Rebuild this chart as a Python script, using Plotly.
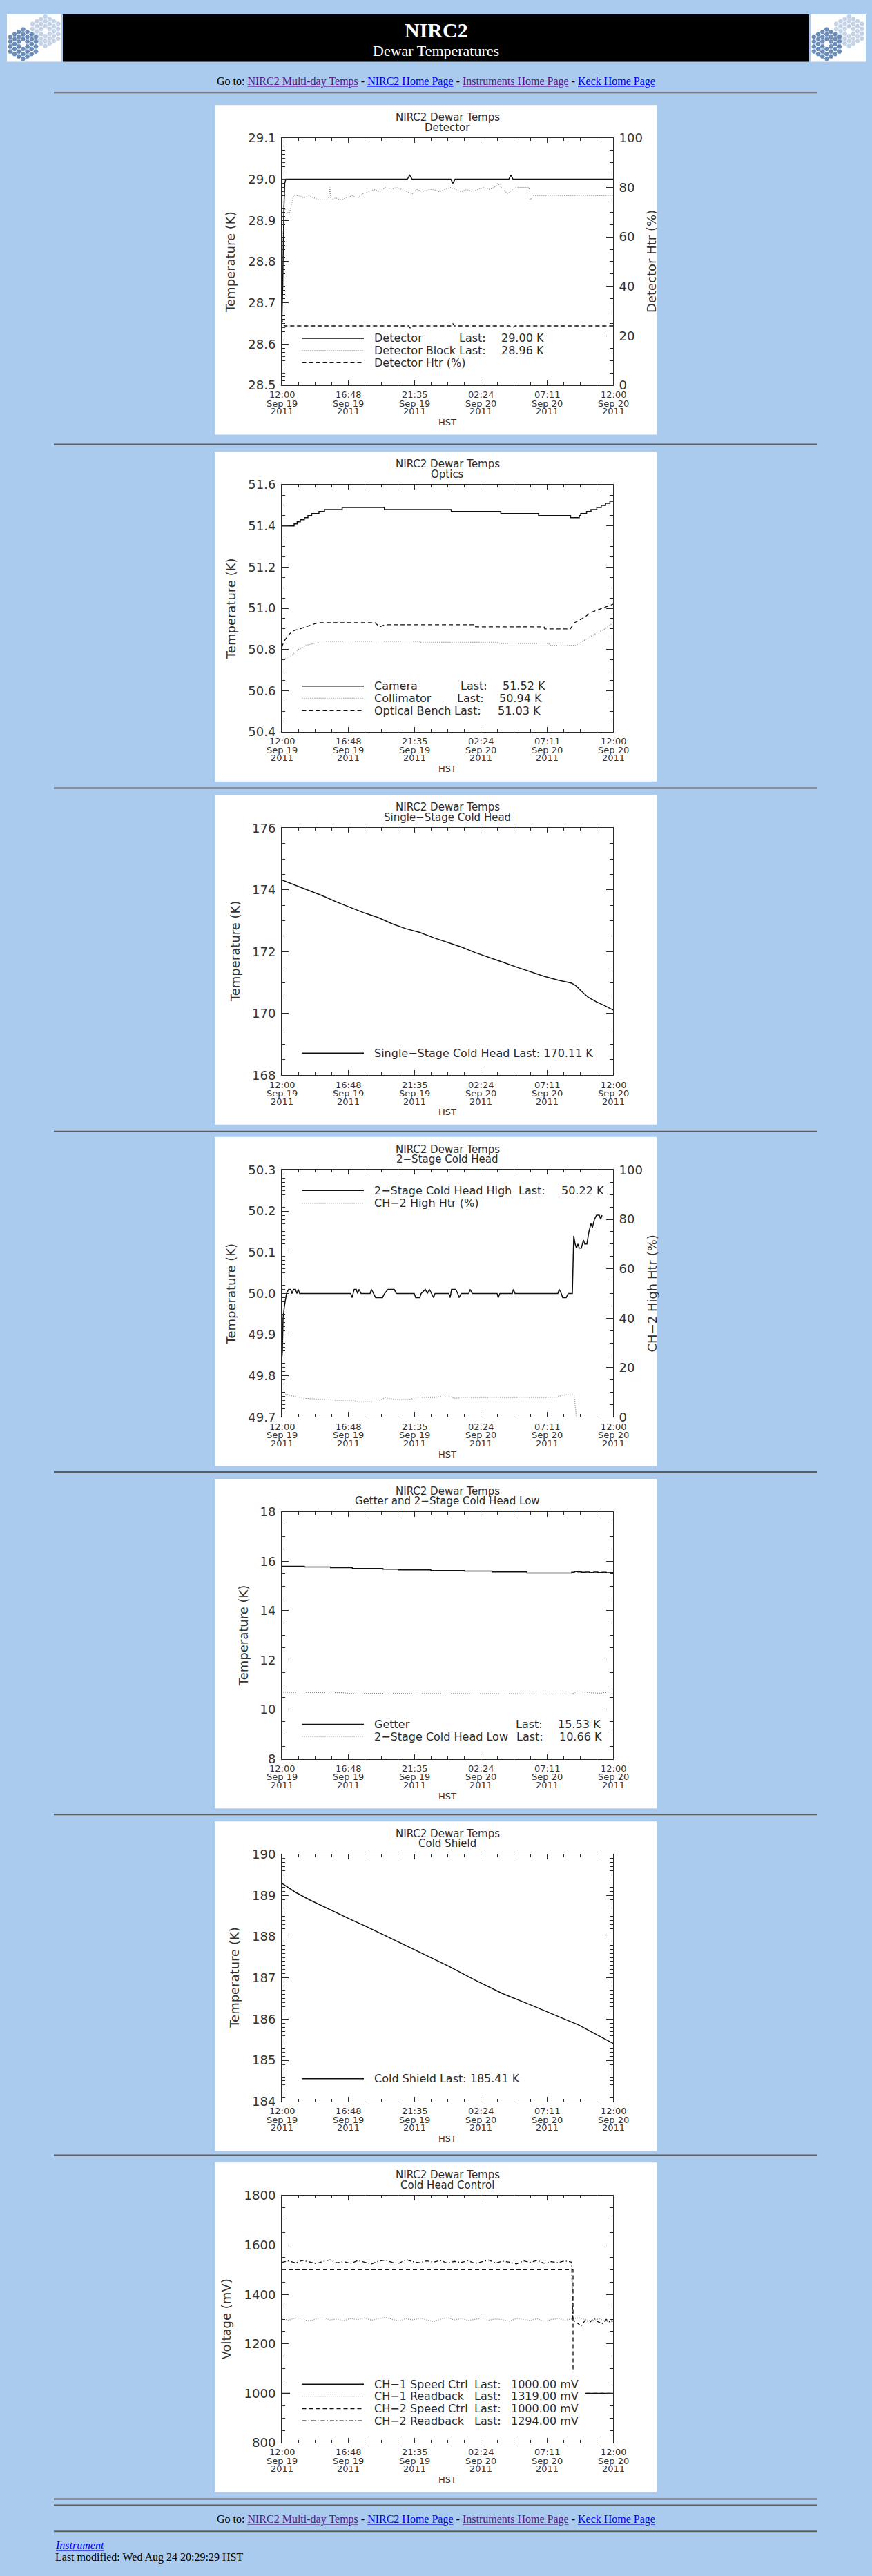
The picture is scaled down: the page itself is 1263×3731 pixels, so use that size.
import pandas as pd
import plotly.graph_objects as go

W, H = 1263, 3731
PAGE_BG = "#aacbee"
AX = "#2a2a2a"
TXT = "#2a2a2a"
IDL_FONT = "DejaVu Sans"
HTML_FONT = "Liberation Serif"
T0 = pd.Timestamp("2011-09-19 12:00")

# ---------------- data (hours after 2011-09-19 12:00 HST) ----------------
TICK_HOURS = [0, 4.8, 9.6, 14.4, 19.2, 24]
MINOR_HOURS = [1.2, 2.4, 3.6, 6.0, 7.2, 8.4, 10.8, 12.0, 13.2, 15.6, 16.8, 18.0, 20.4, 21.6, 22.8]
TICK_TIME = ["12:00", "16:48", "21:35", "02:24", "07:11", "12:00"]
TICK_DATE = ["Sep 19", "Sep 19", "Sep 19", "Sep 20", "Sep 20", "Sep 20"]
TICK_YEAR = ["2011", "2011", "2011", "2011", "2011", "2011"]

# Panel 1 - Detector
det_t = [0, 0.08, 0.16, 0.22, 0.3, 9.1, 9.27, 9.45, 12.25, 12.4, 12.55, 16.45, 16.6, 16.75, 24]
det_v = [28.64, 28.75, 28.93, 28.99, 29.0, 29.0, 29.01, 29.0, 29.0, 28.99, 29.0, 29.0, 29.01, 29.0, 29.0]
blk_t = [0.1, 0.3, 0.55, 0.7, 0.85, 1.2, 1.6, 2.0, 2.3, 2.7, 3.1, 3.4, 3.48, 3.58, 3.9, 4.3, 4.7, 5.1,
         5.5, 5.9, 6.3, 6.7, 7.1, 7.5, 7.9, 8.3, 8.7, 9.1, 9.45, 9.8, 10.2, 10.6, 11.0, 11.4, 11.8,
         12.2, 12.6, 13.0, 13.4, 13.8, 14.2, 14.6, 15.0, 15.4, 15.65, 15.9, 16.2, 16.4, 16.7, 17.0,
         17.4, 17.9, 18.0, 18.2, 24]
blk_v = [28.93, 28.925, 28.915, 28.94, 28.96, 28.96, 28.955, 28.96, 28.955, 28.95, 28.95, 28.95,
         28.98, 28.95, 28.955, 28.95, 28.955, 28.96, 28.955, 28.965, 28.97, 28.975, 28.97, 28.98,
         28.975, 28.98, 28.975, 28.97, 28.965, 28.975, 28.97, 28.975, 28.975, 28.97, 28.975, 28.98,
         28.975, 28.97, 28.975, 28.97, 28.975, 28.98, 28.975, 28.98, 28.99, 28.98, 28.97, 28.965,
         28.975, 28.98, 28.98, 28.98, 28.95, 28.96, 28.96]
htr_t = [0, 0.1, 0.25, 5.0, 9.2, 9.3, 9.4, 12.3, 12.4, 12.5, 16.5, 16.7, 16.9, 24]
htr_v = [27.0, 24.5, 24.0, 24.0, 24.0, 23.2, 24.0, 24.0, 24.9, 24.0, 24.0, 23.3, 24.0, 24.0]

# Panel 2 - Optics
cam_t = [0, 0.9, 1.12, 1.35, 1.64, 1.9, 2.17, 2.7, 3.1, 4.38, 7.44, 12.28, 15.87, 18.6, 20.92,
         21.55, 21.66, 22.08, 22.4, 22.82, 23.14, 23.45, 23.77, 24]
cam_v = [51.40, 51.41, 51.42, 51.43, 51.44, 51.45, 51.46, 51.47, 51.48, 51.49, 51.48, 51.47, 51.46,
         51.45, 51.44, 51.45, 51.46, 51.47, 51.48, 51.49, 51.50, 51.51, 51.52, 51.52]
col_t = [0.1, 0.7, 1.2, 1.75, 2.4, 2.9, 10.0, 10.1, 15.7, 15.8, 19.3, 19.5, 21.3, 21.8, 22.3, 22.8,
         23.4, 23.8, 24]
col_v = [50.75, 50.77, 50.80, 50.82, 50.83, 50.84, 50.84, 50.835, 50.835, 50.83, 50.83, 50.82,
         50.82, 50.84, 50.86, 50.88, 50.90, 50.92, 50.93]
ob_t = [0, 0.17, 0.48, 0.8, 1.3, 1.75, 2.6, 6.75, 7.1, 7.45, 14.0, 14.05, 19.0, 19.05, 20.9, 21.2,
        21.5, 22.0, 22.4, 22.8, 23.2, 23.6, 24]
ob_v = [50.81, 50.84, 50.87, 50.89, 50.90, 50.91, 50.93, 50.93, 50.91, 50.92, 50.92, 50.91, 50.91,
        50.90, 50.90, 50.93, 50.94, 50.96, 50.98, 50.99, 51.00, 51.01, 51.02]

# Panel 3 - Single-Stage Cold Head
ss_t = [0, 1, 2, 3, 4, 5, 6, 7, 8, 9, 10, 11, 12, 13, 14, 15, 16, 17, 18, 19, 20, 21, 21.3, 21.7,
        22.2, 22.8, 23.4, 24]
ss_v = [174.32, 174.15, 173.97, 173.80, 173.60, 173.42, 173.25, 173.10, 172.90, 172.74, 172.62,
        172.45, 172.30, 172.15, 171.97, 171.82, 171.66, 171.50, 171.35, 171.20, 171.08, 170.98,
        170.90, 170.72, 170.52, 170.37, 170.25, 170.11]

# Panel 4 - 2-Stage Cold Head
ch2_t = [0.0, 0.05, 0.1, 0.2, 0.35, 0.5, 0.65, 0.75, 0.85, 1.0, 1.1, 1.2, 1.3, 1.45, 5.0, 5.1, 5.25,
         5.4, 5.5, 5.6, 5.75, 6.4, 6.5, 6.65, 6.8, 7.3, 7.45, 7.7, 8.15, 8.3, 9.6, 9.7, 10.0, 10.1,
         10.4, 10.55, 10.7, 10.85, 11.0, 11.1, 12.1, 12.2, 12.3, 12.6, 12.75, 12.85, 13.0, 13.55,
         13.65, 13.8, 15.6, 15.68, 15.8, 16.7, 16.78, 16.9, 20.0, 20.1, 20.25, 20.35, 20.6, 20.75,
         21.05, 21.1, 21.15, 21.25, 21.35, 21.45, 21.55, 21.7, 21.85, 21.95, 22.1, 22.25, 22.4,
         22.5, 22.65, 22.8, 22.9, 23.0, 23.1, 23.2]
ch2_v = [49.84, 49.86, 49.94, 49.97, 50.00, 50.01, 50.01, 50.00, 50.01, 50.01, 50.00, 50.01, 50.00,
         50.00, 50.00, 49.99, 50.01, 50.01, 50.00, 50.01, 50.00, 50.00, 50.01, 50.00, 49.99, 49.99,
         50.00, 50.01, 50.01, 50.00, 50.00, 49.99, 49.99, 50.00, 50.01, 50.00, 50.01, 50.00, 49.99,
         50.00, 50.00, 49.99, 50.01, 50.01, 50.00, 49.99, 50.00, 50.00, 50.01, 50.00, 50.00, 49.99,
         50.00, 50.00, 50.01, 50.00, 50.00, 50.01, 50.00, 49.99, 49.99, 50.00, 50.00, 50.07, 50.14,
         50.12, 50.11, 50.12, 50.11, 50.11, 50.13, 50.12, 50.12, 50.15, 50.17, 50.16, 50.18, 50.19,
         50.19, 50.19, 50.18, 50.19]
ch2htr_t = [0.27, 0.8, 1.54, 3.0, 4.07, 5.2, 5.54, 7.0, 7.44, 8.28, 9.2, 9.97, 11.0, 12.07, 12.5,
            13.5, 15.0, 16.5, 18.0, 19.87, 20.3, 20.7, 21.18, 21.34]
ch2htr_v = [9.3, 8.5, 7.6, 7.1, 6.8, 6.8, 6.2, 6.2, 7.8, 7.1, 7.1, 8.0, 7.9, 8.5, 7.6, 7.9, 7.9, 8.1,
            7.9, 7.9, 8.8, 9.0, 9.0, 0.0]

# Panel 5 - Getter and 2-Stage Cold Head Low
get_t = [0, 1.64, 3.54, 5.12, 7.33, 8.43, 10.8, 13.23, 15.23, 17.76, 21.0, 21.2, 21.45, 21.7, 22.0,
         22.3, 22.6, 22.9, 23.2, 23.5, 23.8, 24]
get_v = [15.80, 15.77, 15.74, 15.71, 15.68, 15.65, 15.62, 15.60, 15.57, 15.52, 15.55, 15.58, 15.57,
         15.55, 15.56, 15.54, 15.56, 15.54, 15.55, 15.53, 15.54, 15.53]
low_t = [0.1, 2.0, 3.5, 4.5, 5.0, 6.0, 7.0, 8.0, 9.0, 10.0, 11.0, 12.0, 13.0, 14.0, 15.0, 16.0,
         17.0, 18.0, 19.0, 20.0, 21.0, 21.1, 21.4, 22.0, 22.5, 23.0, 23.5, 24]
low_v = [10.70, 10.70, 10.69, 10.68, 10.65, 10.66, 10.65, 10.66, 10.65, 10.65, 10.66, 10.65, 10.64,
         10.65, 10.64, 10.64, 10.64, 10.63, 10.63, 10.63, 10.63, 10.66, 10.73, 10.70, 10.68, 10.66,
         10.69, 10.66]

# Panel 6 - Cold Shield
cs_t = [0, 1, 2, 3, 4, 5, 6, 8, 10, 12, 14, 16, 18, 20, 21.5, 22.5, 24]
cs_v = [189.30, 189.08, 188.90, 188.74, 188.57, 188.42, 188.27, 187.95, 187.63, 187.30, 186.95,
        186.62, 186.35, 186.07, 185.86, 185.68, 185.41]

# Panel 7 - Cold Head Control (mV)
ch1spd_t = [0, 24]
ch1spd_v = [1000, 1000]
ch2spd_t = [0, 21.1, 21.1, 24]
ch2spd_v = [1500, 1500, 1000, 1000]
rb_t = [0, 0.5, 1, 1.5, 2, 2.5, 3, 3.5, 4, 4.5, 5, 5.5, 6, 6.5, 7, 7.5, 8, 8.5, 9, 9.5, 10, 10.5,
        11, 11.5, 12, 12.5, 13, 13.5, 14, 14.5, 15, 15.5, 16, 16.5, 17, 17.5, 18, 18.5, 19, 19.5,
        20, 20.5, 21, 21.5, 22, 22.5, 23, 23.5, 24]
ch1rb_v = [1302, 1296, 1305, 1299, 1293, 1301, 1307, 1297, 1300, 1294, 1303, 1298, 1305, 1296, 1301,
           1308, 1299, 1293, 1302, 1297, 1304, 1298, 1291, 1300, 1306, 1297, 1302, 1295, 1300, 1304,
           1296, 1301, 1298, 1292, 1303, 1299, 1295, 1302, 1290, 1298, 1303, 1296, 1301, 1306, 1298,
           1294, 1302, 1290, 1296]
ch2rb_t = [0, 0.5, 1, 1.5, 2, 2.5, 3, 3.5, 4, 4.5, 5, 5.5, 6, 6.5, 7, 7.5, 8, 8.5, 9, 9.5, 10, 10.5,
           11, 11.5, 12, 12.5, 13, 13.5, 14, 14.5, 15, 15.5, 16, 16.5, 17, 17.5, 18, 18.5, 19, 19.5,
           20, 20.5, 21.0, 21.08, 21.15, 21.4, 21.7, 22.0, 22.3, 22.6, 22.9, 23.2, 23.5, 23.8, 24.0]
ch2rb_v = [1530, 1536, 1528, 1538, 1532, 1525, 1534, 1540, 1529, 1533, 1526, 1537, 1531, 1524, 1535,
           1539, 1530, 1527, 1541, 1533, 1529, 1536, 1531, 1538, 1527, 1534, 1530, 1537, 1526, 1533,
           1539, 1528, 1535, 1531, 1524, 1536, 1530, 1538, 1527, 1533, 1529, 1536, 1531, 1300, 1295,
           1285, 1272, 1298, 1286, 1303, 1290, 1282, 1299, 1287, 1294]

# ---------------- helpers ----------------
def T(h):
    return (T0 + pd.Timedelta(hours=h)).strftime("%Y-%m-%d %H:%M:%S")

def TS(hs):
    return [T(h) for h in hs]

def px(x):
    return x / W

def py(y):
    return 1 - y / H

SOLID = dict(color="#111111", width=1.5)
DOT = dict(color="#858585", width=1.2, dash="1px,2px")
DASH = dict(color="#111111", width=1.3, dash="6px,4px")
DASHDOT = dict(color="#111111", width=1.3, dash="6px,3px,1.5px,3px")

PANEL_X0, PANEL_X1 = 311, 951
PLOT_X0, PLOT_X1 = 408, 888
PANEL_TOPS = [142, 647, 1147, 1645, 2143, 2642, 3139]
HR_Y = [124, 636, 1137, 1637, 2133, 2632, 3128, 3629, 3638, 3676]

panels = [
    dict(sub="Detector", yr=(28.5, 29.1), dt=0.1, mdt=0.01, fmt=".1f", ytitle="Temperature (K)", ytx=334,
         right=dict(title="Detector Htr (%)", yr=(0, 100), dt=20, mdt=5),
         traces=[(blk_t, blk_v, DOT, "L", "linear"), (htr_t, htr_v, DASH, "R", "linear"),
                 (det_t, det_v, SOLID, "L", "linear")],
         legend=[(291.7, "Detector", 706, "29.00 K", 724, SOLID),
                 (309.3, "Detector Block", 706, "28.96 K", 724, DOT),
                 (327.3, "Detector Htr (%)", None, None, None, DASH)]),
    dict(sub="Optics", yr=(50.4, 51.6), dt=0.2, mdt=0.05, fmt=".1f", ytitle="Temperature (K)", ytx=334,
         right=None,
         traces=[(col_t, col_v, DOT, "L", "linear"), (ob_t, ob_v, DASH, "L", "linear"),
                 (cam_t, cam_v, SOLID, "L", "hv")],
         legend=[(293.3, "Camera", 708, "51.52 K", 725.8, SOLID),
                 (311.0, "Collimator", 703, "50.94 K", 720.7, DOT),
                 (329.0, "Optical Bench", 698.8, "51.03 K", 718.6, DASH)]),
    dict(sub="Single\u2212Stage Cold Head", yr=(168, 176), dt=2, mdt=0.5, fmt="d", ytitle="Temperature (K)", ytx=340,
         right=None,
         traces=[(ss_t, ss_v, SOLID, "L", "linear")],
         legend=[(327.7, "Single\u2212Stage Cold Head Last: 170.11 K", None, None, None, SOLID)]),
    dict(sub="2\u2212Stage Cold Head", yr=(49.7, 50.3), dt=0.1, mdt=0.01, fmt=".1f", ytitle="Temperature (K)", ytx=334,
         right=dict(title="CH\u22122 High Htr (%)", yr=(0, 100), dt=20, mdt=5),
         traces=[(ch2htr_t, ch2htr_v, DOT, "R", "linear"), (ch2_t, ch2_v, SOLID, "L", "linear")],
         legend=[(30.0, "2\u2212Stage Cold Head High", 792.3, "50.22 K", 811.2, SOLID),
                 (48.7, "CH\u22122 High Htr (%)", None, None, None, DOT)]),
    dict(sub="Getter and 2\u2212Stage Cold Head Low", yr=(8, 18), dt=2, mdt=0.5, fmt="d", ytitle="Temperature (K)", ytx=352.6,
         right=None,
         traces=[(low_t, low_v, DOT, "L", "linear"), (get_t, get_v, SOLID, "L", "hv")],
         legend=[(309.7, "Getter", 788, "15.53 K", 806.1, SOLID),
                 (327.3, "2\u2212Stage Cold Head Low", 788.9, "10.66 K", 807.8, DOT)]),
    dict(sub="Cold Shield", yr=(184, 190), dt=1, mdt=0.1, fmt="d", ytitle="Temperature (K)", ytx=340,
         right=None,
         traces=[(cs_t, cs_v, SOLID, "L", "linear")],
         legend=[(326.7, "Cold Shield Last: 185.41 K", None, None, None, SOLID)]),
    dict(sub="Cold Head Control", yr=(800, 1800), dt=200, mdt=50, fmt="d", ytitle="Voltage (mV)", ytx=327.4,
         right=None,
         traces=[(rb_t, ch1rb_v, DOT, "L", "linear"), (ch2rb_t, ch2rb_v, DASHDOT, "L", "linear"),
                 (ch2spd_t, ch2spd_v, DASH, "L", "linear"), (ch1spd_t, ch1spd_v, SOLID, "L", "linear")],
         legend=[(274.7, "CH\u22121 Speed Ctrl", 728.3, "1000.00 mV", 737.5, SOLID),
                 (292.3, "CH\u22121 Readback", 728.3, "1319.00 mV", 737.5, DOT),
                 (310.3, "CH\u22122 Speed Ctrl", 728.3, "1000.00 mV", 737.5, DASH),
                 (328.0, "CH\u22122 Readback", 728.3, "1294.00 mV", 737.5, DASHDOT)],
         clear_box=(420, 847, 257, 343)),
]

fig = go.Figure()
shapes = []
annotations = []
layout = dict(width=W, height=H, autosize=False, margin=dict(l=0, r=0, t=0, b=0, pad=0),
              paper_bgcolor=PAGE_BG, plot_bgcolor="rgba(0,0,0,0)", showlegend=False,
              hovermode=False)

def ann(text, x, y, size, family=IDL_FONT, color=TXT, xanchor="center", yanchor="middle",
        angle=0, xref="paper"):
    annotations.append(dict(text=text, x=x if xref != "paper" else px(x), y=py(y), xref=xref,
                            yref="paper", showarrow=False, xanchor=xanchor, yanchor=yanchor,
                            textangle=angle, font=dict(family=family, size=size, color=color)))

# ---------------- header ----------------
shapes.append(dict(type="rect", xref="paper", yref="paper", x0=px(10), x1=px(89), y0=py(79), y1=py(10),
                   fillcolor="white", line=dict(width=0), layer="below"))
shapes.append(dict(type="rect", xref="paper", yref="paper", x0=px(1174), x1=px(1254), y0=py(79), y1=py(10),
                   fillcolor="white", line=dict(width=0), layer="below"))
shapes.append(dict(type="rect", xref="paper", yref="paper", x0=px(91), x1=px(1172), y0=py(79), y1=py(10),
                   fillcolor="black", line=dict(width=0), layer="below"))
ann("<b>NIRC2</b>", 631.5, 33, 30, family=HTML_FONT, color="white")
ann("Dewar Temperatures", 631.5, 63, 22, family=HTML_FONT, color="white")

# logo hexagon clusters (decoration)
R = 4.12
for ox in (0, 1164):
    for (cx, cy, col) in ((65.7, 34.5, "#c4d3e6"), (33.4, 53.2, "#6b8db9")):
        hx, hy = [], []
        for q in range(-3, 4):
            for r in range(-3, 4):
                if abs(q + r) <= 3 and not (q == 0 and r == 0):
                    hx.append(ox + cx + 1.5 * R * q)
                    hy.append(cy + 1.7320508 * R * (r + q / 2))
        fig.add_trace(go.Scatter(x=hx, y=hy, mode="markers", xaxis="x10", yaxis="y10",
                                 marker=dict(symbol="hexagon2", size=7.2, color=col, line=dict(width=0)),
                                 hoverinfo="skip"))
layout["xaxis10"] = dict(domain=[0, 1], range=[0, W], visible=False, fixedrange=True, anchor="y10")
layout["yaxis10"] = dict(domain=[py(90), 1], range=[90, 0], visible=False, fixedrange=True, anchor="x10")

LINK_P = "color:#551a8b;text-decoration:underline"
LINK_B = "color:#0000ee;text-decoration:underline"
goto = ("Go to: <span style='%s'>NIRC2 Multi-day Temps</span> - <span style='%s'>NIRC2 Home Page</span>"
        " - <span style='%s'>Instruments Home Page</span> - <span style='%s'>Keck Home Page</span>"
        % (LINK_P, LINK_B, LINK_P, LINK_B))
ann(goto, 631.5, 108, 16, family=HTML_FONT, color="black")
ann(goto, 631.5, 3659, 16, family=HTML_FONT, color="black")
ann("<i><span style='%s'>Instrument</span></i>" % LINK_B, 78, 3696, 16, family=HTML_FONT,
    color="black", xanchor="left")
ann("Last modified: Wed Aug 24 20:29:29 HST", 78, 3714, 16, family=HTML_FONT, color="black",
    xanchor="left")

for yh in HR_Y:
    shapes.append(dict(type="line", xref="paper", yref="paper", x0=px(78), x1=px(1184), y0=py(yh), y1=py(yh),
                       line=dict(color="#5e5e5e", width=2), layer="below"))

# ---------------- panels ----------------
for i, (cfg, top) in enumerate(zip(panels, PANEL_TOPS), start=1):
    xn = "x" if i == 1 else f"x{i}"
    yn = "y" if i == 1 else f"y{i}"
    xk = "xaxis" if i == 1 else f"xaxis{i}"
    yk = "yaxis" if i == 1 else f"yaxis{i}"
    ptop, pbot = top + 48, top + 408
    shapes.append(dict(type="rect", xref="paper", yref="paper", x0=px(PANEL_X0), x1=px(PANEL_X1),
                       y0=py(top + 480), y1=py(top), fillcolor="white", line=dict(width=0), layer="below"))
    layout[xk] = dict(domain=[px(PLOT_X0), px(PLOT_X1)], anchor=yn, type="date", range=[T(0), T(24)],
                      tickmode="array", tickvals=TS(TICK_HOURS), ticks="inside", ticklen=7, tickcolor=AX,
                      showticklabels=False, showline=True, linecolor=AX, linewidth=1, mirror="ticks",
                      showgrid=False, zeroline=False, fixedrange=True,
                      minor=dict(tickmode="array", tickvals=TS(MINOR_HOURS), ticks="inside", ticklen=4,
                                 tickcolor=AX, showgrid=False))
    lo, hi = cfg["yr"]
    eps = (hi - lo) * 1e-6
    tickfont = dict(family=IDL_FONT, size=18, color="#333333")
    layout[yk] = dict(domain=[py(pbot), py(ptop)], anchor=xn, range=[lo - eps, hi + eps], tickmode="linear",
                      tick0=lo, dtick=cfg["dt"], tickformat=cfg["fmt"], ticks="inside", ticklen=10,
                      tickcolor=AX, showline=True, linecolor=AX, linewidth=1,
                      mirror=(False if cfg["right"] else "ticks"), tickfont=tickfont, ticklabelstandoff=4,
                      showgrid=False, zeroline=False, fixedrange=True,
                      minor=dict(tick0=lo, dtick=cfg["mdt"], ticks="inside", ticklen=5, tickcolor=AX,
                                 showgrid=False))
    ry = None
    if cfg["right"]:
        rc = cfg["right"]
        rnum = 7 + (1 if i == 1 else 2)
        ry = f"y{rnum}"
        rlo, rhi = rc["yr"]
        layout[f"yaxis{rnum}"] = dict(overlaying=yn, side="right", anchor=xn, range=[rlo - 1e-4, rhi + 1e-4],
                                      tickmode="linear", tick0=rlo, dtick=rc["dt"], tickformat="d",
                                      ticks="inside", ticklen=10, tickcolor=AX, showline=True, linecolor=AX,
                                      linewidth=1, tickfont=tickfont, ticklabelstandoff=4, showgrid=False,
                                      zeroline=False, fixedrange=True,
                                      minor=dict(tick0=rlo, dtick=rc["mdt"], ticks="inside", ticklen=5,
                                                 tickcolor=AX, showgrid=False))
        ann(rc["title"], 944, (ptop + pbot) / 2, 18, color="#333333", angle=-90)

    for (tt, vv, style, side, shape) in cfg["traces"]:
        fig.add_trace(go.Scatter(x=TS(tt), y=vv, mode="lines", xaxis=xn,
                                 yaxis=(ry if side == "R" else yn),
                                 line=dict(shape=shape, **style), hoverinfo="skip"))

    # titles
    ann("NIRC2 Dewar Temps", (PLOT_X0 + PLOT_X1) / 2, ptop - 30, 15)
    ann(cfg["sub"], (PLOT_X0 + PLOT_X1) / 2, ptop - 15.5, 15)
    ann(cfg["ytitle"], cfg["ytx"], (ptop + pbot) / 2, 18, color="#333333", angle=-90)
    # x tick labels (three lines) and axis title
    for h, a, b, c in zip(TICK_HOURS, TICK_TIME, TICK_DATE, TICK_YEAR):
        for txt, dy in ((a, 14), (b, 26.5), (c, 38)):
            annotations.append(dict(text=txt, x=T(h), y=py(pbot + dy), xref=xn, yref="paper",
                                    showarrow=False, xanchor="center", yanchor="middle",
                                    font=dict(family=IDL_FONT, size=13, color="#333333")))
    ann("HST", (PLOT_X0 + PLOT_X1) / 2, pbot + 54, 13, color="#333333")

    # legend
    if cfg.get("clear_box"):
        bx0, bx1, by0, by1 = cfg["clear_box"]
        shapes.append(dict(type="rect", xref="paper", yref="paper", x0=px(bx0), x1=px(bx1),
                           y0=py(ptop + by1), y1=py(ptop + by0), fillcolor="white",
                           line=dict(width=0), layer="above"))
    for (dy, label, lastx, val, valx, style) in cfg["legend"]:
        yy = ptop + dy
        shapes.append(dict(type="line", xref="paper", yref="paper", x0=px(PLOT_X0 + 29.5),
                           x1=px(PLOT_X0 + 119), y0=py(yy), y1=py(yy), line=style, layer="above"))
        ann(label, PLOT_X0 + 131.7, yy, 16, xanchor="left")
        if lastx is not None:
            ann("Last:", lastx, yy, 16, xanchor="right")
            ann(val, valx, yy, 16, xanchor="left")

layout["shapes"] = shapes
layout["annotations"] = annotations
fig.update_layout(**layout)

fig.write_html("out.html", config={"displayModeBar": False, "staticPlot": True},
               post_script="document.body.style.margin='0';document.body.style.overflow='hidden';"
                           "document.body.style.background='%s';" % PAGE_BG)
